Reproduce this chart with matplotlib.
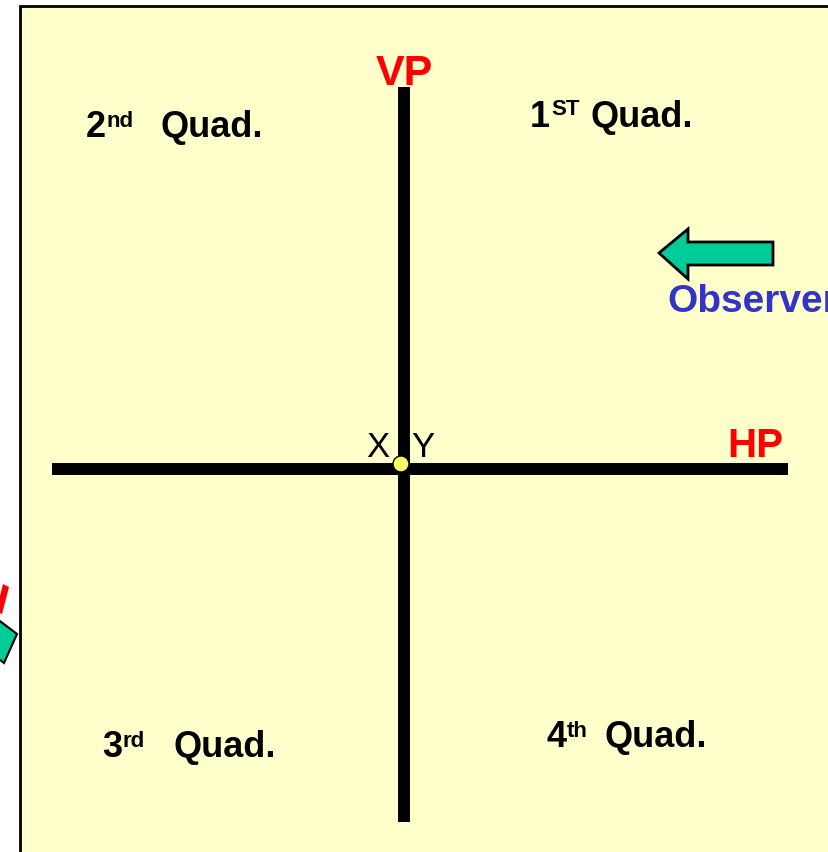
import matplotlib.pyplot as plt
from matplotlib.patches import Rectangle, Polygon, Circle

plt.rcParams['font.family'] = ['Liberation Sans', 'DejaVu Sans']

# quadrant labels: number, superscript, x of number, baseline
quad_nums = ['2', '1', '3', '4']
quad_sups = ['nd', 'ST', 'rd', 'th']
quad_x = [86, 530, 102, 547]
quad_base = [137, 127, 757, 747]
quad_sup_x = [107, 551, 123, 567]
quad_sup_up = [10, 12, 10, 10]
quad_word_x = [161, 591, 174, 605]

# planes
plane_names = ['VP', 'HP']

fig = plt.figure(figsize=(8.29, 8.52), dpi=100)
ax = fig.add_axes([0, 0, 1, 1])
ax.set_xlim(0, 829)
ax.set_ylim(852, 0)
ax.axis('off')

# background panel
ax.add_patch(Rectangle((20, 6), 840, 870, fc='#FFFFCC', ec='black', lw=2, zorder=0))

# cut-off bits at left edge
ax.add_patch(Polygon([(3, 584), (9, 587), (2, 614), (-4, 612)], closed=True,
                     fc='red', ec='none', zorder=1))
ax.add_patch(Polygon([(-12, 612), (17, 634), (4, 663), (-25, 641)], closed=True,
                     fc='#00CC99', ec='black', lw=1.5, zorder=1))

# reference lines
ax.plot([404, 404], [87, 822], color='black', lw=8.6, solid_capstyle='butt', zorder=2)
ax.plot([52, 788], [469, 469], color='black', lw=8.6, solid_capstyle='butt', zorder=2)
ax.add_patch(Circle((401, 464), 8, fc='#FFFF66', ec='black', lw=1, zorder=3))

# labels
ax.text(404, 85, plane_names[0], color='red', fontsize=31, fontweight='bold',
        ha='center', va='baseline')
ax.text(783, 457, plane_names[1], color='red', fontsize=29, fontweight='bold',
        ha='right', va='baseline')
ax.text(366, 457, 'X', fontsize=25, ha='left', va='baseline')
ax.text(411, 457, 'Y', fontsize=25, ha='left', va='baseline')

for n, s, x, b, sx, up, wx in zip(quad_nums, quad_sups, quad_x, quad_base,
                                   quad_sup_x, quad_sup_up, quad_word_x):
    ax.text(x, b, n, fontsize=26, fontweight='bold', va='baseline')
    ax.text(sx, b - up, s, fontsize=16, fontweight='bold', va='baseline')
    ax.text(wx, b, 'Quad.', fontsize=26, fontweight='bold', va='baseline')

# observer arrow
arrow = [(659, 253), (688, 229), (688, 242), (773, 242), (773, 265), (688, 265), (688, 279)]
ax.add_patch(Polygon(arrow, closed=True, fc='#00CC99', ec='black', lw=2, zorder=3))
ax.text(667, 312, 'Observer', color='#3333CC', fontsize=28, fontweight='bold', va='baseline')

fig.savefig('out.png', dpi=100)
